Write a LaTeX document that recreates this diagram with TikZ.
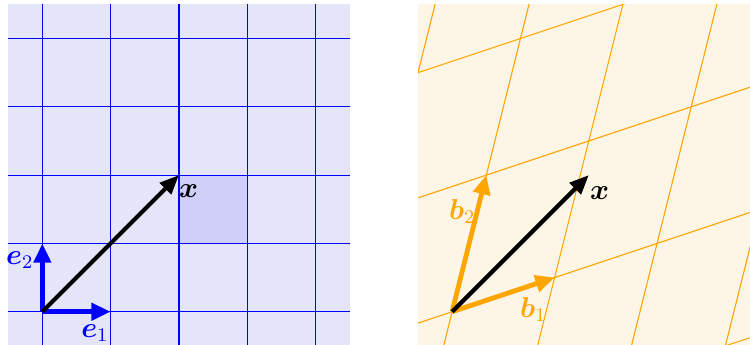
\documentclass[tikz,border=0pt]{standalone}
\usepackage{amsmath,bm}
\usetikzlibrary{arrows.meta}
\definecolor{bgblue}{RGB}{229,229,250}
\definecolor{cellblue}{RGB}{207,207,250}
\definecolor{bgorange}{RGB}{253,245,230}
\definecolor{worange}{RGB}{255,165,0}
\begin{document}
\begin{tikzpicture}[
  gridblue/.style={draw=blue, line width=0.5pt},
  gridorange/.style={draw=worange, line width=0.45pt},
  vecarrow/.style={line width=2pt, -{Triangle[length=8pt,width=7pt]}},
  vecblue/.style={vecarrow, draw=blue, fill=blue},
  vecorange/.style={vecarrow, draw=worange, fill=worange},
  vecblack/.style={line width=1.7pt, draw=black, -{Triangle[length=8pt,width=6.5pt]}},
  lbl/.style={inner sep=0pt, font=\large}
]
\useasboundingbox (-0.62,-0.473) rectangle (10.361,4.564);

% ---------- left panel: standard basis ----------
\fill[bgblue] (-0.5,-0.5) rectangle (4.5,4.5);
\fill[cellblue] (2,1) rectangle (3,2);
\draw[gridblue] (-0.5,-0.5) grid (4.5,4.5);

\coordinate (O1) at (0,0);
\coordinate (E1) at (1,0);
\coordinate (E2) at (0,1);
\coordinate (X1) at (2,2);

\draw[vecblue] (O1) -- (E1);
\draw[vecblue] (O1) -- (E2);
\draw[vecblack] (O1) -- (X1);

\node[lbl, text=blue] (le1) at (0.77,-0.31) {$\bm{e}_1$};
\node[lbl, text=blue] (le2) at (-0.33,0.76) {$\bm{e}_2$};
\node[lbl] (lx1) at (2.14,1.76) {$\bm{x}$};

% ---------- right panel: skewed basis ----------
\begin{scope}
  \clip (5.5,-0.5) rectangle (10.5,4.5);
  \fill[bgorange] (5.5,-0.5) rectangle (10.5,4.5);
  \begin{scope}[shift={(6,0)}, cm={1.5,0.5,0.5,2,(0,0)}]
    \draw[gridorange] (-4,-3) grid (6,5);
  \end{scope}
\end{scope}

\coordinate (O2) at (6,0);
\coordinate (B1) at (7.5,0.5);
\coordinate (B2) at (6.5,2);
\coordinate (X2) at (8,2);

\draw[vecorange] (O2) -- (B1);
\draw[vecorange] (O2) -- (B2);
\draw[vecblack] (O2) -- (X2);

\node[lbl, text=worange] (lb1) at (7.19,0.03) {$\bm{b}_1$};
\node[lbl, text=worange] (lb2) at (6.15,1.47) {$\bm{b}_2$};
\node[lbl] (lx2) at (8.16,1.73) {$\bm{x}$};
\end{tikzpicture}
\end{document}
